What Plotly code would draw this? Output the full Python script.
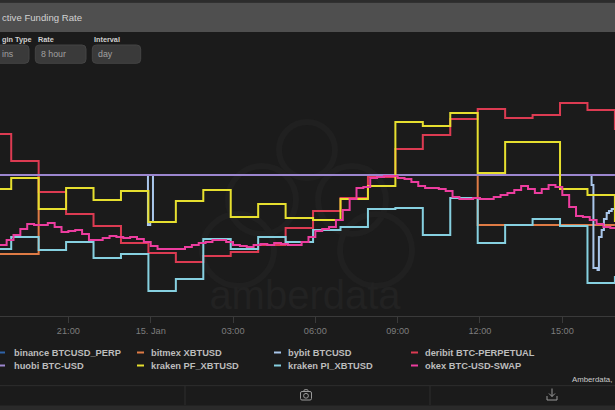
import plotly.graph_objects as go
import pandas as pd

# funding rate snapshots, % per 8h
hours = pd.date_range("2023-01-14 17:55", "2023-01-15 16:55", freq="h")

binance = [0.0100, 0.0100, 0.0100, 0.0100, 0.0100, 0.0100, 0.0100, 0.0100,
           0.0100, 0.0100, 0.0100, 0.0100, 0.0100, 0.0100, 0.0100, 0.0100,
           0.0100, 0.0100, 0.0100, 0.0100, 0.0100, 0.0100, 0.0100, 0.0100]
bitmex = [0.0021, 0.0021, 0.0100, 0.0100, 0.0100, 0.0100, 0.0100, 0.0100,
          0.0100, 0.0100, 0.0100, 0.0100, 0.0100, 0.0100, 0.0100, 0.0100,
          0.0100, 0.0100, 0.0050, 0.0050, 0.0050, 0.0050, 0.0050, 0.0050]
deribit = [0.0141, 0.0114, 0.0083, 0.0061, 0.0049, 0.0032, 0.0022, 0.0013,
           0.0019, 0.0023, 0.0030, 0.0047, 0.0064, 0.0077, 0.0098, 0.0126,
           0.0140, 0.0156, 0.0166, 0.0157, 0.0160, 0.0172, 0.0165, 0.0145]
huobi = [0.0100, 0.0100, 0.0100, 0.0100, 0.0100, 0.0100, 0.0100, 0.0100,
         0.0100, 0.0100, 0.0100, 0.0100, 0.0100, 0.0100, 0.0100, 0.0100,
         0.0100, 0.0100, 0.0100, 0.0100, 0.0100, 0.0100, 0.0100, 0.0100]
kraken_pf = [0.0086, 0.0097, 0.0066, 0.0087, 0.0075, 0.0084, 0.0053, 0.0074,
             0.0085, 0.0058, 0.0071, 0.0057, 0.0055, 0.0076, 0.0089, 0.0153,
             0.0149, 0.0162, 0.0102, 0.0133, 0.0133, 0.0086, 0.0080, 0.0053]
kraken_pi = [0.0026, 0.0038, 0.0025, 0.0033, 0.0017, 0.0021, -0.0016, -0.0004,
             0.0036, 0.0026, 0.0038, 0.0033, 0.0045, 0.0048, 0.0066, 0.0067,
             0.0040, 0.0077, 0.0032, 0.0050, 0.0056, 0.0049, -0.0008, -0.0001]

bybit_time = ["2023-01-14 17:55", "2023-01-14 23:54", "2023-01-14 23:59",
              "2023-01-15 00:05", "2023-01-15 16:04", "2023-01-15 16:08",
              "2023-01-15 16:17", "2023-01-15 16:20", "2023-01-15 16:26",
              "2023-01-15 16:31", "2023-01-15 16:37", "2023-01-15 16:42",
              "2023-01-15 16:48", "2023-01-15 16:55"]
bybit = [0.0100, 0.0050, 0.0053, 0.0100, 0.0090, 0.0007, 0.0005,
         0.0038, 0.0045, 0.0056, 0.0062, 0.0064, 0.0066, 0.0067]

okex_time = pd.date_range("2023-01-14 18:30", periods=91, freq="15min")
okex = [0.0030, 0.0035, 0.0040, 0.0046, 0.0051, 0.0050, 0.0050, 0.0052, 0.0048, 0.0043,
        0.0044, 0.0045, 0.0041, 0.0035, 0.0035, 0.0037, 0.0039, 0.0038, 0.0037, 0.0038,
        0.0036, 0.0033, 0.0029, 0.0026, 0.0026, 0.0026, 0.0026, 0.0028, 0.0030, 0.0032,
        0.0033, 0.0035, 0.0035, 0.0033, 0.0030, 0.0029, 0.0028, 0.0030, 0.0031, 0.0030,
        0.0032, 0.0031, 0.0030, 0.0030, 0.0033, 0.0038, 0.0044, 0.0046, 0.0048, 0.0055,
        0.0065, 0.0076, 0.0087, 0.0088, 0.0097, 0.0098, 0.0099, 0.0099, 0.0097, 0.0096,
        0.0093, 0.0089, 0.0087, 0.0087, 0.0086, 0.0084, 0.0078, 0.0076, 0.0076, 0.0077,
        0.0076, 0.0076, 0.0078, 0.0080, 0.0082, 0.0085, 0.0089, 0.0086, 0.0082, 0.0086,
        0.0090, 0.0088, 0.0080, 0.0068, 0.0059, 0.0058, 0.0055, 0.0051, 0.0048, 0.0047,
        0.0047]

tick_vals = ["2023-01-14 21:00", "2023-01-15 00:00", "2023-01-15 03:00", "2023-01-15 06:00",
             "2023-01-15 09:00", "2023-01-15 12:00", "2023-01-15 15:00"]
tick_text = ["21:00", "15. Jan", "03:00", "06:00", "09:00", "12:00", "15:00"]

series = [
    ("binance BTCUSD_PERP", hours, binance, "#2f63a8"),
    ("bitmex XBTUSD", hours, bitmex, "#df7b45"),
    ("bybit BTCUSD", bybit_time, bybit, "#a9c6ea"),
    ("deribit BTC-PERPETUAL", hours, deribit, "#dc3b52"),
    ("huobi BTC-USD", hours, huobi, "#9c86cf"),
    ("kraken PF_XBTUSD", hours, kraken_pf, "#e6df2f"),
    ("kraken PI_XBTUSD", hours, kraken_pi, "#86d0e0"),
    ("okex BTC-USD-SWAP", okex_time, okex, "#ec3d9f"),
]

FONT = "Liberation Sans"
BG = "#1b1b1b"
W, H = 615, 410
TOP, BOT = 70, 316


def fx(p):
    return p / W


def fy(p):
    return (BOT - p) / (BOT - TOP)


def rbox(x0, y0, x1, y1, r=4):
    return (f"M{fx(x0 + r)},{fy(y0)} L{fx(x1 - r)},{fy(y0)} Q{fx(x1)},{fy(y0)} {fx(x1)},{fy(y0 + r)} "
            f"L{fx(x1)},{fy(y1 - r)} Q{fx(x1)},{fy(y1)} {fx(x1 - r)},{fy(y1)} "
            f"L{fx(x0 + r)},{fy(y1)} Q{fx(x0)},{fy(y1)} {fx(x0)},{fy(y1 - r)} "
            f"L{fx(x0)},{fy(y0 + r)} Q{fx(x0)},{fy(y0)} {fx(x0 + r)},{fy(y0)} Z")


fig = go.Figure()
for name, t, v, c in series:
    fig.add_trace(go.Scatter(x=t, y=v, name=name, mode="lines",
                             line=dict(color=c, width=2, shape="hv"),
                             showlegend=False))

shapes = []
annotations = []


def rect(x0, y0, x1, y1, color):
    shapes.append(dict(type="rect", xref="paper", yref="paper", layer="below",
                       x0=fx(x0), x1=fx(x1), y0=fy(y1), y1=fy(y0),
                       fillcolor=color, line_width=0))


def seg(x0, y0, x1, y1, color, w=1):
    shapes.append(dict(type="line", xref="paper", yref="paper", layer="below",
                       x0=fx(x0), x1=fx(x1), y0=fy(y0), y1=fy(y1),
                       line=dict(color=color, width=w)))


def text(x, y, s, size, color, anchor="left", bold=False):
    annotations.append(dict(xref="paper", yref="paper", x=fx(x), y=fy(y), text=f"<b>{s}</b>" if bold else s,
                            showarrow=False, xanchor=anchor, yanchor="middle",
                            font=dict(family=FONT, size=size, color=color)))


# watermark
for cx, cy, r in [(307, 150, 28), (262, 200, 34), (352, 200, 34), (238, 250, 36), (376, 250, 36)]:
    shapes.append(dict(type="circle", xref="paper", yref="paper", layer="below",
                       x0=fx(cx - r), x1=fx(cx + r), y0=fy(cy + r), y1=fy(cy - r),
                       line=dict(color="#202020", width=6)))
shapes.append(dict(type="rect", xref="paper", yref="paper", layer="below",
                   x0=fx(200), x1=fx(410), y0=fy(312), y1=fy(270), line_width=0,
                   label=dict(text="amberdata", font=dict(family=FONT, size=40, color="#222222"))))

# header bar
rect(0, 0, W, 2.7, "#2c2c2c")
rect(0, 2.7, W, 32, "#4f4f4f")
text(0, 17.5, "ctive Funding Rate", 9.6, "#d2d2d2")

# selectors
for lab, lx, val, x0, x1 in [("gin Type", 0, "ins", -10, 29), ("Rate", 36, "8 hour", 35.3, 86),
                             ("Interval", 92.3, "day", 92.3, 140.7)]:
    shapes.append(dict(type="path", xref="paper", yref="paper", layer="below",
                       path=rbox(x0, 45, x1, 63.3), fillcolor="#3a3a3a",
                       line=dict(color="#444444", width=1)))
    text(lx, 40, lab, 7.3, "#cfcfcf", bold=True)
    text(x0 + 4 if x0 > 0 else 0, 54.3, val, 8.8, "#a0a0a0")

# legend
leg = [(0, 352.5), (137, 352.5), (274, 352.5), (411, 352.5),
       (0, 365.5), (137, 365.5), (274, 365.5), (411, 365.5)]
for (lx, ly), (name, _, _, c) in zip(leg, series):
    seg(lx if lx > 0 else -2, ly, lx + 7 if lx > 0 else 5, ly, c, 2)
    text(lx + 11.5, ly, name, 9.3, "#bdbdbd", bold=True)

text(614, 379.5, "Amberdata,", 7.8, "#cccccc", anchor="right")

# toolbar
seg(0, 385.7, W, 385.7, "#2e2e2e")
seg(185, 386, 185, 405, "#2e2e2e")
seg(430, 386, 430, 405, "#2e2e2e")
rect(0, 405.5, W, 410, "#2a2a2a")
icon = "#9a9a9a"
shapes.append(dict(type="path", xref="paper", yref="paper", layer="below",
                   path=rbox(300.5, 391.5, 311.5, 400, 1.5), line=dict(color=icon, width=1)))
shapes.append(dict(type="path", xref="paper", yref="paper", layer="below",
                   path=f"M{fx(303.5)},{fy(391.5)} L{fx(304.5)},{fy(389.7)} L{fx(307.5)},{fy(389.7)} L{fx(308.5)},{fy(391.5)}",
                   line=dict(color=icon, width=1)))
shapes.append(dict(type="circle", xref="paper", yref="paper", layer="below",
                   x0=fx(303.6), x1=fx(308.4), y0=fy(398.2), y1=fy(393.4), line=dict(color=icon, width=1)))
seg(552, 388.5, 552, 396.5, icon)
shapes.append(dict(type="path", xref="paper", yref="paper", layer="below",
                   path=f"M{fx(549)},{fy(393.5)} L{fx(552)},{fy(396.5)} L{fx(555)},{fy(393.5)}",
                   line=dict(color=icon, width=1)))
shapes.append(dict(type="path", xref="paper", yref="paper", layer="below",
                   path=f"M{fx(547)},{fy(396)} L{fx(547)},{fy(400)} L{fx(557)},{fy(400)} L{fx(557)},{fy(396)}",
                   line=dict(color=icon, width=1)))

fig.update_layout(
    width=W, height=H,
    margin=dict(l=0, r=0, t=TOP, b=H - BOT, pad=0),
    paper_bgcolor=BG,
    plot_bgcolor="rgba(0,0,0,0)",
    showlegend=False,
    font=dict(family=FONT, color="#7d7d7d", size=9.2),
    shapes=shapes,
    annotations=annotations,
)
fig.update_xaxes(
    type="date",
    range=["2023-01-14 18:30:30", "2023-01-15 16:55:12"],
    tickvals=tick_vals, ticktext=tick_text,
    showgrid=False, zeroline=False,
    showline=True, linecolor="#3a3a3a", linewidth=1,
    ticks="outside", ticklen=6, tickcolor="#3a3a3a",
    tickfont=dict(family=FONT, size=9.2, color="#7d7d7d"),
)
fig.update_yaxes(
    range=[-0.0041, 0.0205],
    visible=False, showgrid=False, zeroline=False,
)

fig.write_html("out.html", config={"displayModeBar": False},
               post_script="document.body.style.margin='0';document.body.style.overflow='hidden';"
                           "document.body.style.background='#1b1b1b';")
